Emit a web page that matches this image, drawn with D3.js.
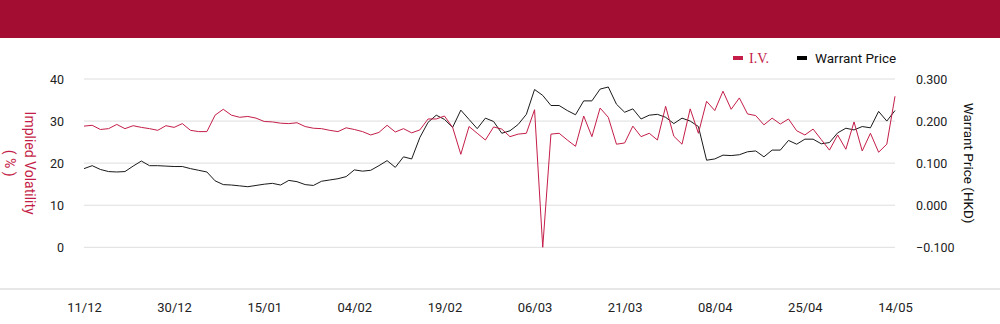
<!DOCTYPE html>
<html>
<head>
<meta charset="utf-8">
<script src="https://cdn.jsdelivr.net/npm/d3@7"></script>
<style>
  html, body { margin: 0; padding: 0; background: #fff; }
  svg { display: block; }
  .tick text { font-family: Roboto, "Noto Sans", sans-serif; }
</style>
</head>
<body>
<div id="chart"></div>
<script>
// trading days 11/12 .. 14/05
var dates = [
  "11/12","12/12","13/12","16/12","17/12","18/12","19/12","20/12","23/12","24/12",
  "27/12","30/12","31/12","02/01","03/01","06/01","07/01","08/01","09/01","10/01",
  "13/01","14/01","15/01","16/01","17/01","20/01","21/01","22/01","23/01","24/01",
  "27/01","28/01","03/02","04/02","05/02","06/02","07/02","10/02","11/02","12/02",
  "13/02","14/02","17/02","18/02","19/02","20/02","21/02","24/02","25/02","26/02",
  "27/02","28/02","03/03","04/03","05/03","06/03","07/03","10/03","11/03","12/03",
  "13/03","14/03","17/03","18/03","19/03","20/03","21/03","24/03","25/03","26/03",
  "27/03","28/03","31/03","01/04","02/04","03/04","07/04","08/04","09/04","10/04",
  "11/04","14/04","15/04","16/04","17/04","22/04","23/04","24/04","25/04","28/04",
  "29/04","30/04","02/05","06/05","07/05","08/05","09/05","12/05","13/05","14/05"
];

var ivValues = [
  28.8, 29.0, 28.0, 28.2, 29.2, 28.2, 28.9, 28.5, 28.2, 27.8,
  28.9, 28.5, 29.4, 27.8, 27.5, 27.5, 31.4, 32.8, 31.4, 30.9,
  31.1, 30.7, 29.9, 29.8, 29.5, 29.4, 29.6, 28.7, 28.3, 28.2,
  27.8, 27.5, 28.4, 28.0, 27.5, 26.7, 27.3, 29.0, 27.4, 28.2,
  27.2, 27.9, 30.5, 30.5, 31.2, 28.5, 22.1, 28.7, 27.1, 25.5,
  28.6, 28.1, 26.3, 26.9, 27.1, 32.7, 0.0, 26.9, 27.1, 25.5,
  24.0, 31.2, 26.3, 33.1, 30.9, 24.5, 24.8, 28.8, 26.3, 27.1,
  25.5, 33.5, 26.4, 24.5, 32.9, 27.1, 34.7, 32.5, 37.1, 32.8,
  35.5, 31.7, 31.3, 29.1, 30.7, 29.3, 30.5, 27.7, 26.7, 28.1,
  25.6, 23.1, 26.7, 23.3, 29.8, 22.9, 27.1, 22.6, 24.5, 35.9
];

var priceValues = [
  0.087, 0.094, 0.085, 0.080, 0.079, 0.080, 0.093, 0.105, 0.094, 0.094,
  0.093, 0.092, 0.092, 0.087, 0.083, 0.079, 0.058, 0.049, 0.048, 0.046,
  0.044, 0.047, 0.050, 0.052, 0.048, 0.059, 0.056, 0.049, 0.047, 0.057,
  0.060, 0.063, 0.068, 0.084, 0.081, 0.083, 0.094, 0.106, 0.090, 0.115,
  0.110, 0.161, 0.197, 0.214, 0.204, 0.185, 0.226, 0.204, 0.182, 0.207,
  0.199, 0.171, 0.177, 0.192, 0.216, 0.275, 0.261, 0.237, 0.237, 0.225,
  0.215, 0.248, 0.248, 0.276, 0.281, 0.240, 0.221, 0.229, 0.205, 0.214,
  0.216, 0.209, 0.194, 0.207, 0.200, 0.187, 0.107, 0.110, 0.119, 0.118,
  0.120, 0.127, 0.129, 0.115, 0.131, 0.131, 0.154, 0.145, 0.157, 0.157,
  0.146, 0.149, 0.172, 0.183, 0.179, 0.187, 0.184, 0.223, 0.200, 0.225
];

var leftTicks = [0, 10, 20, 30, 40];
var rightTicks = [-0.1, 0, 0.1, 0.2, 0.3];
var xTickLabels = ["11/12","30/12","15/01","04/02","19/02","06/03","21/03","08/04","25/04","14/05"];

var width = 1000;
var height = 324;
var headerHeight = 38;
var plotLeft = 84;
var plotRight = 895;
var plotTop = 79;
var plotBottom = 247.3;
var axisLineY = 289;

var ivColor = "#c41e48";
var priceColor = "#1a1a1a";
var headerColor = "#a30d32";

var svg = d3.select("#chart").append("svg")
  .attr("width", width)
  .attr("height", height)
  .attr("viewBox", "0 0 " + width + " " + height);

svg.append("rect")
  .attr("x", 0)
  .attr("y", 0)
  .attr("width", width)
  .attr("height", headerHeight)
  .attr("fill", headerColor);

var scaleX = d3.scalePoint()
  .domain(dates)
  .range([plotLeft, plotRight]);

var scaleIV = d3.scaleLinear()
  .domain([0, 40])
  .range([plotBottom, plotTop]);

var scalePrice = d3.scaleLinear()
  .domain([-0.1, 0.3])
  .range([plotBottom, plotTop]);

// gridlines
svg.append("g")
  .attr("class", "grid")
  .selectAll("line")
  .data(leftTicks)
  .enter()
  .append("line")
    .attr("x1", plotLeft)
    .attr("x2", plotRight)
    .attr("y1", d => scaleIV(d))
    .attr("y2", d => scaleIV(d))
    .attr("stroke", "#dedede")
    .attr("stroke-width", 1);

// left axis
var leftAxis = svg.append("g")
  .attr("transform", "translate(" + (plotLeft - 20) + ",0)")
  .call(d3.axisLeft(scaleIV).tickValues(leftTicks).tickSize(0).tickPadding(0));
leftAxis.select(".domain").remove();
leftAxis.selectAll("text")
  .attr("font-size", 12.5)
  .attr("fill", "#222");

// right axis
var rightAxis = svg.append("g")
  .attr("transform", "translate(" + (plotRight + 21) + ",0)")
  .call(d3.axisRight(scalePrice).tickValues(rightTicks).tickSize(0).tickPadding(0).tickFormat(d3.format(".3f")));
rightAxis.select(".domain").remove();
rightAxis.selectAll("text")
  .attr("font-size", 12.5)
  .attr("fill", "#222");

// axis titles
var midY = (plotTop + plotBottom) / 2;
var leftTitle = svg.append("text")
  .attr("transform", "translate(25," + midY + ") rotate(90)")
  .attr("text-anchor", "middle")
  .attr("font-family", "Roboto, 'Noto Sans', sans-serif")
  .attr("font-size", 14)
  .attr("fill", ivColor);
leftTitle.append("tspan").attr("x", 0).attr("dy", 0).text("Implied Volatility");
leftTitle.append("tspan").attr("x", 0).attr("dy", 20).text("( % )");

svg.append("text")
  .attr("transform", "translate(964," + midY + ") rotate(90)")
  .attr("text-anchor", "middle")
  .attr("font-family", "Roboto, 'Noto Sans', sans-serif")
  .attr("font-size", 13.5)
  .attr("fill", "#111")
  .text("Warrant Price (HKD)");

// bottom axis
svg.append("line")
  .attr("x1", 0)
  .attr("x2", width)
  .attr("y1", axisLineY)
  .attr("y2", axisLineY)
  .attr("stroke", "#cfcfcf")
  .attr("stroke-width", 1);

var bottomAxis = svg.append("g")
  .attr("transform", "translate(0," + axisLineY + ")")
  .call(d3.axisBottom(scaleX).tickValues(xTickLabels).tickSize(0).tickPadding(14));
bottomAxis.select(".domain").remove();
bottomAxis.selectAll("text")
  .attr("font-family", "'Liberation Sans Narrow', 'DejaVu Sans Condensed', sans-serif")
  .attr("font-size", 13)
  .attr("fill", "#222");

// lines
var ivLine = d3.line()
  .x((d, i) => scaleX(dates[i]))
  .y(d => scaleIV(d));

var priceLine = d3.line()
  .x((d, i) => scaleX(dates[i]))
  .y(d => scalePrice(d));

svg.append("path")
  .datum(priceValues)
  .attr("fill", "none")
  .attr("stroke", priceColor)
  .attr("stroke-width", 1)
  .attr("d", priceLine);

svg.append("path")
  .datum(ivValues)
  .attr("fill", "none")
  .attr("stroke", ivColor)
  .attr("stroke-width", 1)
  .attr("d", ivLine);

// legend
var legend = svg.append("g").attr("transform", "translate(0,58)");
legend.append("rect")
  .attr("x", 733).attr("y", -2).attr("width", 10).attr("height", 4)
  .attr("fill", ivColor);
legend.append("text")
  .attr("x", 749).attr("y", 5)
  .attr("font-family", "'Liberation Serif', serif")
  .attr("font-size", 14)
  .attr("fill", ivColor)
  .text("I.V.");
legend.append("rect")
  .attr("x", 797).attr("y", -2).attr("width", 10).attr("height", 4)
  .attr("fill", "#000");
legend.append("text")
  .attr("x", 815).attr("y", 5)
  .attr("font-family", "Roboto, 'Noto Sans', sans-serif")
  .attr("font-size", 13.5)
  .attr("fill", "#111")
  .text("Warrant Price");
</script>
</body>
</html>
